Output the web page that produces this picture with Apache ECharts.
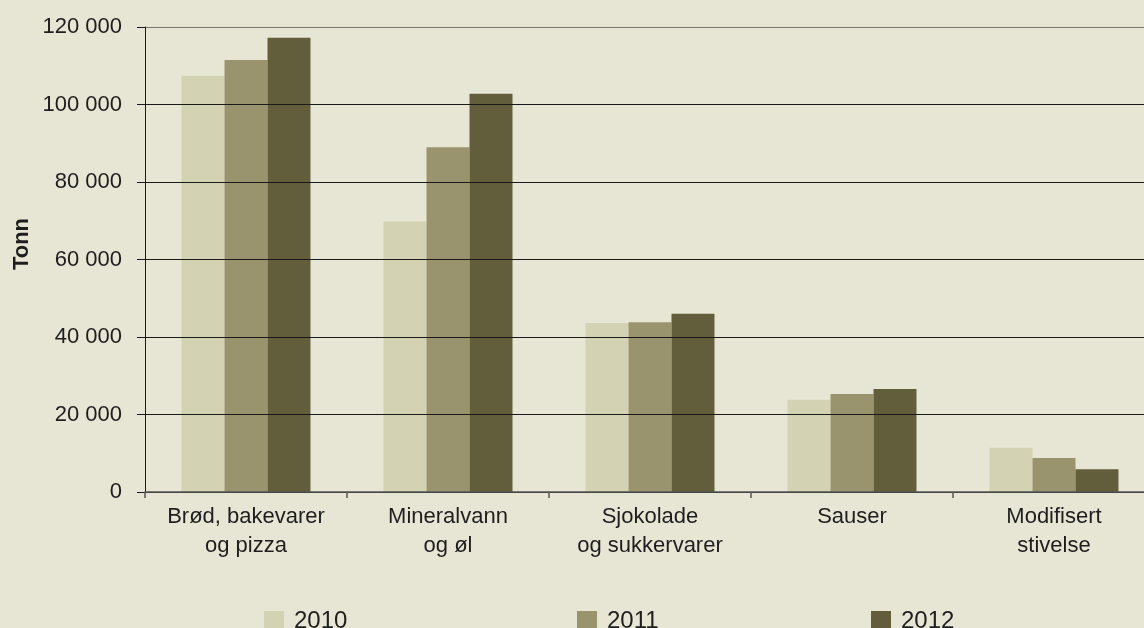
<!DOCTYPE html>
<html>
<head>
<meta charset="utf-8">
<script src="https://cdn.jsdelivr.net/npm/echarts@6/dist/echarts.min.js"></script>
<style>
html,body{margin:0;padding:0;background:#e7e6d5;overflow:hidden;width:1144px;height:628px;}
#chart{width:1155px;height:628px;}
</style>
</head>
<body>
<div id="chart"></div>
<script>
var categories = ['Brød, bakevarer\nog pizza', 'Mineralvann\nog øl', 'Sjokolade\nog sukkervarer', 'Sauser', 'Modifisert\nstivelse'];
var seriesNames = ['2010', '2011', '2012'];
var values2010 = [107400, 69800, 43600, 23800, 11400];
var values2011 = [111500, 89000, 43800, 25300, 8800];
var values2012 = [117200, 102800, 46000, 26600, 5900];
var yTicks = [0, 20000, 40000, 60000, 80000, 100000, 120000];
var yAxisTitle = 'Tonn';

var FONT = '"Liberation Sans", Arial, Helvetica, sans-serif';
var colors = ['#d3d2b2', '#9a946e', '#625e3b'];
var legendLeft = [259, 572, 866];
var allValues = [values2010, values2011, values2012];

var chart = echarts.init(document.getElementById('chart'), null, {renderer: 'canvas'});
var option = {
  backgroundColor: '#e7e6d5',
  animation: false,
  textStyle: {fontFamily: FONT, color: '#1e1e1e'},
  grid: {left: 145, top: 27, right: 0, height: 465, containLabel: false},
  legend: seriesNames.map(function (n, i) {
    return {
      data: [n], left: legendLeft[i], top: 604,
      itemWidth: 20, itemHeight: 20, itemGap: 0,
      icon: 'rect',
      textStyle: {fontFamily: FONT, fontSize: 24, color: '#1e1e1e', padding: [0, 0, 6, 5]}
    };
  }),
  xAxis: {
    type: 'category',
    data: categories,
    z: 5,
    axisLine: {show: true, lineStyle: {color: '#555', width: 1.5}},
    axisTick: {show: true, length: 6, lineStyle: {color: '#555', width: 1.5}},
    axisLabel: {fontFamily: FONT, fontSize: 22, color: '#1e1e1e', lineHeight: 29, margin: 10, interval: 0}
  },
  yAxis: {
    type: 'value',
    min: 0, max: 120000, interval: 20000,
    z: 5,
    axisLine: {show: true, lineStyle: {color: '#1a1a1a', width: 1}},
    axisTick: {show: true, length: 8, lineStyle: {color: '#1a1a1a', width: 1}},
    splitLine: {show: true, lineStyle: {color: ['#1a1a1a', '#1a1a1a', '#1a1a1a', '#1a1a1a', '#1a1a1a', '#1a1a1a', '#777'], width: 1}},
    axisLabel: {
      fontFamily: FONT, fontSize: 22, color: '#1e1e1e', margin: 23,
      formatter: function (v) { return String(v).replace(/\B(?=(\d{3})+(?!\d))/g, ' '); }
    }
  },
  graphic: [{
    type: 'text', x: 22, y: 244, rotation: Math.PI / 2,
    style: {text: yAxisTitle, font: 'bold 22px ' + FONT, fill: '#1e1e1e', align: 'center', verticalAlign: 'middle'}
  }],
  series: seriesNames.map(function (n, i) {
    return {
      name: n, type: 'bar', data: allValues[i], barWidth: 43, barGap: '0%',
      itemStyle: {color: colors[i]}, z: 2
    };
  })
};
chart.setOption(option);
</script>
</body>
</html>
